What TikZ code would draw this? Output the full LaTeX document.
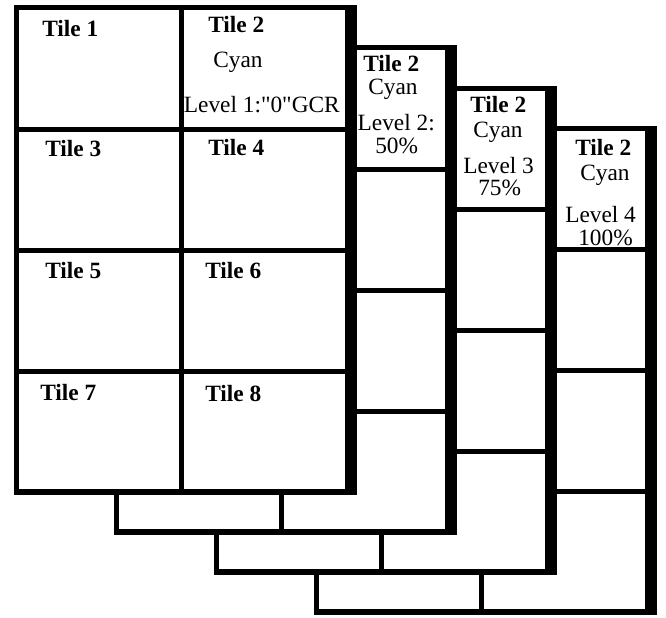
\documentclass[tikz,border=0pt]{standalone}
\usepackage{fontspec}
\setmainfont{Liberation Serif}[Ligatures=TeXOff]
\newcommand\sheetbg[1]{%
  \begin{scope}[shift={(100*#1,40*#1)}]
    \fill[white] (14,5.5) rectangle (357,495);
  \end{scope}}
\newcommand\sheetgrid[1]{%
  \begin{scope}[shift={(100*#1,40*#1)}]
    \draw[gridline] (16.5,8) rectangle (347,492);
    \draw[gridline] (181,8) -- (181,492);
    \foreach \yy in {129,250,371} \draw[gridline] (16.5,\yy) -- (347,\yy);
    \fill (345,5.5) rectangle (357,495);
    \fill (14,489) rectangle (357,495);
  \end{scope}}
\begin{document}
\begin{tikzpicture}[x=0.75pt,y=-0.75pt,
  gridline/.style={line width=3.75pt},
  lbl/.style={inner sep=0pt, anchor=base west, font=\fontsize{17.5}{20}\selectfont\bfseries},
  txt/.style={inner sep=0pt, anchor=base west, font=\fontsize{17.5}{20}\selectfont}]
\useasboundingbox[fill=white] (0,0) rectangle (666,617);
% sheet 4
\sheetbg{3}
\node[lbl] (s4t) at (575,155) {Tile 2};
\node[txt] (s4c) at (580,180) {Cyan};
\node[txt] (s4l) at (565,222) {Level 4};
\node[txt] (s4p) at (578,245) {100\%};
\sheetgrid{3}
% sheet 3
\sheetbg{2}
\node[lbl] (s3t) at (470,112) {Tile 2};
\node[txt] (s3c) at (473,137) {Cyan};
\node[txt] (s3l) at (463,173) {Level 3};
\node[txt] (s3p) at (478,195) {75\%};
\sheetgrid{2}
% sheet 2
\sheetbg{1}
\node[lbl] (s2t) at (363,71) {Tile 2};
\node[txt] (s2c) at (368,94) {Cyan};
\node[txt,anchor=base east] (s2l) at (435,130) {Level 2:};
\node[txt] (s2p) at (375,153) {50\%};
\sheetgrid{1}
% sheet 1
\sheetbg{0}
\node[lbl] (t1) at (42,37) {Tile 1};
\node[lbl] (t2) at (208,33) {Tile 2};
\node[txt] (c1) at (213,67) {Cyan};
\node[txt,anchor=base east] (l1) at (340,112) {Level 1:"0"GCR};
\node[lbl] (t3) at (45,156) {Tile 3};
\node[lbl] (t4) at (208,155) {Tile 4};
\node[lbl] (t5) at (45,278) {Tile 5};
\node[lbl] (t6) at (205,278) {Tile 6};
\node[lbl] (t7) at (40,400) {Tile 7};
\node[lbl] (t8) at (205,401) {Tile 8};
\sheetgrid{0}
\end{tikzpicture}
\end{document}
